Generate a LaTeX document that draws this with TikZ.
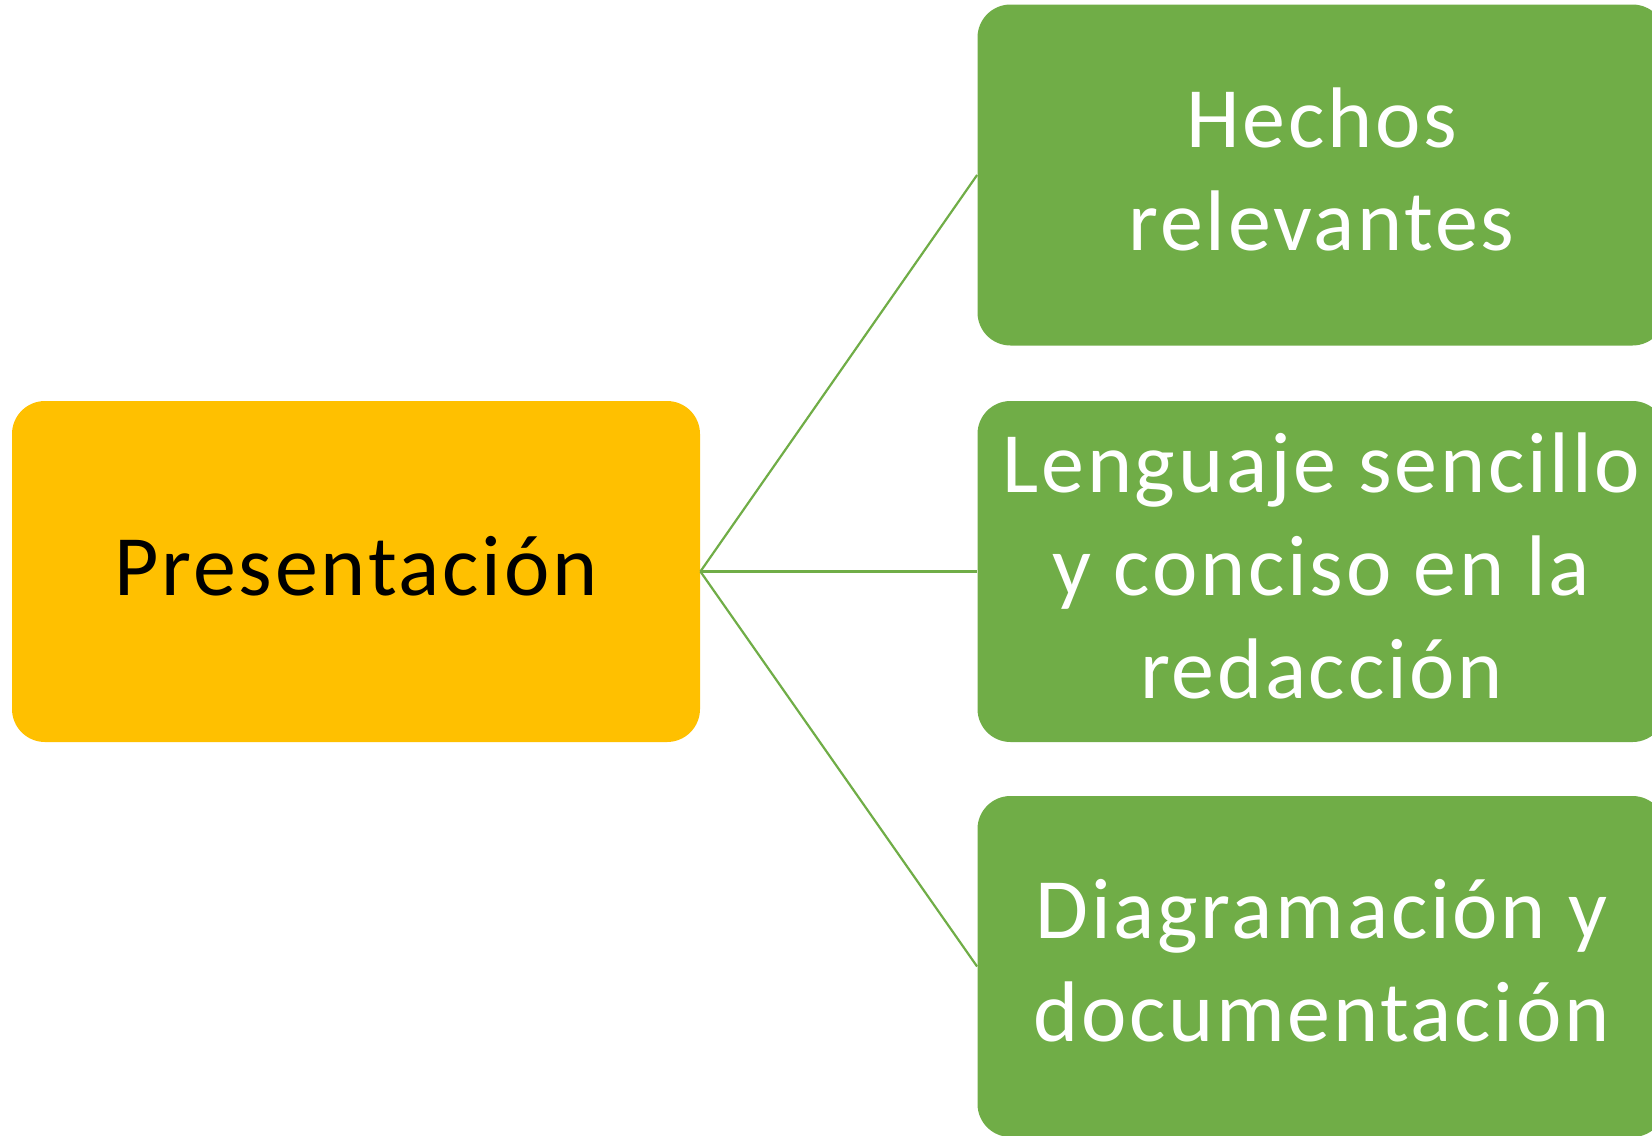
\documentclass[tikz,border=0pt]{standalone}
\usepackage{fontspec}
\setmainfont[LetterSpace=3.2]{Carlito}
\definecolor{ambar}{HTML}{FFC000}
\definecolor{verde}{HTML}{70AD47}
\tikzset{
  caja/.style={rounded corners=16.5pt, minimum width=344pt, minimum height=170.5pt, inner sep=0pt},
  cajaamarilla/.style={caja, fill=ambar},
  cajaverde/.style={caja, fill=verde},
  texto/.style={align=center, inner sep=0pt, yshift=2.8pt, font=\fontsize{43}{51.5}\selectfont},
  enlace/.style={draw=verde, line width=1.1pt}
}
\begin{document}
\begin{tikzpicture}[x=0.5pt,y=-0.5pt]
	    \useasboundingbox (0,0) rectangle (1652,1135);
	    \clip (0,0) rectangle (1652,1135);
	    \node[cajaamarilla] (pres) at (356,571.5) {};
	    \node[cajaverde] (hechos) at (1321.5,175) {};
	    \node[cajaverde] (lenguaje) at (1321.5,571.5) {};
	    \node[cajaverde] (diagrama) at (1321.5,966.5) {};
	    % textos
	    \node[texto, text=black] (pres-t) at (pres) {Presentación};
	    \node[texto, text=white] (hechos-t) at (hechos) {Hechos\\relevantes};
	    \node[texto, text=white] (lenguaje-t) at (lenguaje) {Lenguaje sencillo\\y conciso en la\\redacción};
	    \node[texto, text=white] (diagrama-t) at (diagrama) {Diagramación y\\documentación};
	    % enlaces
	    \draw[enlace] (pres.east) -- (hechos.west);
	    \draw[enlace] (pres.east) -- (lenguaje.west);
	    \draw[enlace] (pres.east) -- (diagrama.west);
	\end{tikzpicture}
\end{document}
